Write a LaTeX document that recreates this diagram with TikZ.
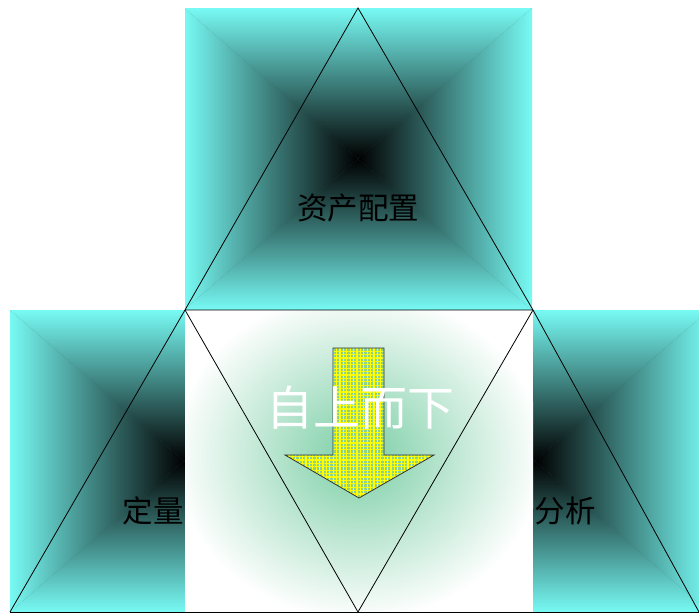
\documentclass[tikz,border=0pt]{standalone}
\usepackage{fontspec}
\newfontfamily\cjk{Noto Sans CJK SC}
\usepackage{tikz}
\usetikzlibrary{positioning, patterns.meta, calc}
\usepackage{xcolor}

\definecolor{edgecyan}{RGB}{120,250,244}
\definecolor{glowgreen}{RGB}{122,206,165}
\definecolor{arrowbg}{RGB}{140,210,140}

\begin{document}
\begin{tikzpicture}[x=1pt, y=-1pt,
    rotulo/.style={font=\cjk\fontsize{30.5}{34}\selectfont, text=black, inner sep=0pt},
    lema/.style={font=\cjk\fontsize{47}{50}\selectfont, text=white, inner sep=0pt},
    aresta/.style={draw=black, line width=0.8pt},
    seta/.style={draw=black!80, line width=0.8pt,
                 pattern={Hatch[angle=0, distance=3.4pt, line width=1.3pt]}, pattern color=yellow,
                 preaction={fill=arrowbg}}]
    \useasboundingbox (0,0) rectangle (699,613);
    % Quadrados com sombreamento em piramide
    \foreach \cx/\cy/\xa/\xb/\ya/\yb in {358/159/185/533/8/310, 184/461/10/185/310/612, 535/461/533/699/310/612} {
      \begin{scope}
        \clip (\xa,\ya) rectangle (\xb,\yb);
        \fill[edgecyan!45!black] ({\cx-174},{\cy-151}) rectangle ({\cx+174},{\cy+151});
        \shade[top color=edgecyan, bottom color=black] ({\cx-174},{\cy-151}) -- ({\cx+174},{\cy-151}) -- (\cx,\cy) -- cycle;
        \shade[top color=black, bottom color=edgecyan] ({\cx-174},{\cy+151}) -- ({\cx+174},{\cy+151}) -- (\cx,\cy) -- cycle;
        \shade[left color=edgecyan, right color=black] ({\cx-174},{\cy-151}) -- ({\cx-174},{\cy+151}) -- (\cx,\cy) -- cycle;
        \shade[left color=black, right color=edgecyan] ({\cx+174},{\cy-151}) -- ({\cx+174},{\cy+151}) -- (\cx,\cy) -- cycle;
      \end{scope}
    }
    % Brilho verde no centro
    \begin{scope}
      \clip (185,310) rectangle (533,612);
      \fill[white] (185,310) rectangle (533,612);
      \shade[inner color=glowgreen, outer color=white] (358,455) ellipse (185 and 165);
    \end{scope}
    % Vertices dos triangulos
    \coordinate (topo) at (358,8);
    \coordinate (supesq) at (185,310);
    \coordinate (supdir) at (533,310);
    \coordinate (infesq) at (10,612);
    \coordinate (infmeio) at (358,612);
    \coordinate (infdir) at (699,612);
    \draw[aresta] (topo) -- (supesq) -- (supdir) -- cycle;
    \draw[aresta] (supesq) -- (infesq);
    \draw[aresta] (supesq) -- (infmeio) -- (supdir);
    \draw[aresta] (supdir) -- (infdir);
    \draw[aresta] (infesq) -- (infdir);
    % Seta para baixo
    \draw[seta] (333,348) -- (384,348) -- (384,455) -- (434,455) -- (359,498) -- (285,455) -- (333,455) -- cycle;
    % Rotulos
    \node[rotulo] (alocacao) at (358,208) {资产配置};
    \node[rotulo] (quant) at (153,511) {定量};
    \node[rotulo] (analise) at (565,511) {分析};
    \node[lema] (descida) at (360,408) {自上而下};
\end{tikzpicture}
\end{document}
